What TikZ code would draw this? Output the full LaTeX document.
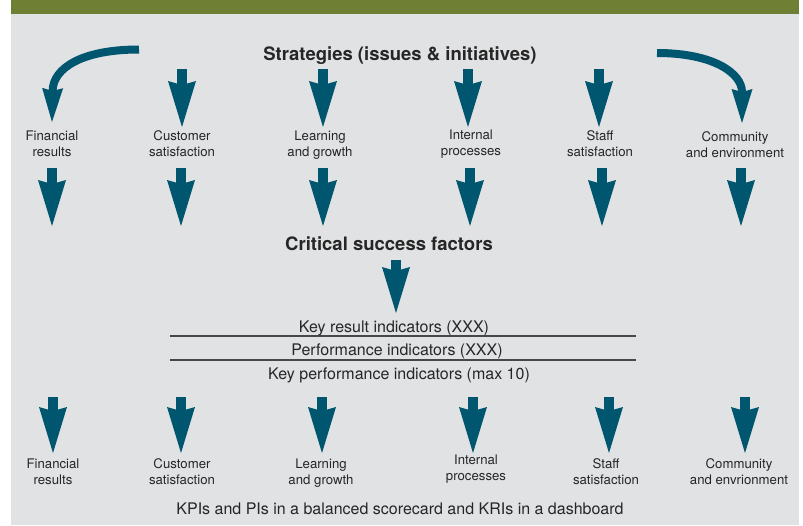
\documentclass[tikz,border=0pt]{standalone}
\usepackage{fontspec}
\setmainfont{TeX Gyre Heros}
\definecolor{band}{HTML}{6F7F33}
\definecolor{panel}{HTML}{E1E2E4}
\definecolor{arr}{HTML}{00566F}
\definecolor{ink}{HTML}{262626}
\usetikzlibrary{arrows.meta,positioning}

\begin{document}
\begin{tikzpicture}
    [x=1pt,y=-1pt,
      fatarrow/.style={arr,line width=10pt,-{Stealth[width=28pt,length=46pt,inset=4pt,line width=0pt]}},
      curlarrow/.style={arr,line width=8pt,-{Stealth[width=21pt,length=34pt,inset=3pt,line width=0pt]}},
      lbl/.style={align=center,text=ink,inner sep=0pt,font=\fontsize{13.2}{16}\selectfont},
      head/.style={text=ink,anchor=base,inner sep=0pt,font=\fontsize{18.5}{22}\selectfont\bfseries},
      ind/.style={text=ink,anchor=base,inner sep=0pt,font=\fontsize{16}{19}\selectfont},
      sep/.style={draw=ink!85,line width=1.5pt}]

  \useasboundingbox (0,0) rectangle (803,525);
  \fill[panel] (11,14) rectangle (799,525);
  \fill[band] (11,0) rectangle (799,14);

  \node [head] (strat) at (400,60) {Strategies (issues \& initiatives)};

  \node [lbl] (fin1) at (52,144) {Financial\\results};
  \node [lbl] (cus1) at (182,144) {Customer\\satisfaction};
  \node [lbl] (lrn1) at (320,145) {Learning\\and growth};
  \node [lbl] (int1) at (471,144) {Internal\\processes};
  \node [lbl] (stf1) at (600,144) {Staff\\satisfaction};
  \node [lbl] (com1) at (735,145) {Community\\and environment};

  \coordinate (lcurl) at (139,49.5);
  \coordinate (rcurl) at (657,53);
  \draw [curlarrow] (lcurl) .. controls (82,49.5) and (53,68) .. ([yshift=22pt]fin1.center);
  \draw [curlarrow] (rcurl) .. controls (713,53) and (742,73) .. ([xshift=7pt,yshift=22pt]com1.center);

  \draw [fatarrow] ([yshift=75pt]cus1.center) -- ([yshift=17pt]cus1.center);
  \draw [fatarrow] ([xshift=3pt,yshift=76pt]lrn1.center) -- ([xshift=3pt,yshift=18pt]lrn1.center);
  \draw [fatarrow] ([xshift=-3pt,yshift=75pt]int1.center) -- ([xshift=-3pt,yshift=17pt]int1.center);
  \draw [fatarrow] ([xshift=-1pt,yshift=75pt]stf1.center) -- ([xshift=-1pt,yshift=17pt]stf1.center);

  \draw [fatarrow] ([yshift=-24pt]fin1.center) -- ([yshift=-82pt]fin1.center);
  \draw [fatarrow] ([xshift=-1pt,yshift=-24pt]cus1.center) -- ([xshift=-1pt,yshift=-82pt]cus1.center);
  \draw [fatarrow] ([xshift=3pt,yshift=-23pt]lrn1.center) -- ([xshift=3pt,yshift=-81pt]lrn1.center);
  \draw [fatarrow] ([xshift=-1pt,yshift=-24pt]int1.center) -- ([xshift=-1pt,yshift=-82pt]int1.center);
  \draw [fatarrow] ([xshift=2pt,yshift=-24pt]stf1.center) -- ([xshift=2pt,yshift=-82pt]stf1.center);
  \draw [fatarrow] ([xshift=6pt,yshift=-23pt]com1.center) -- ([xshift=6pt,yshift=-81pt]com1.center);

  \node [head] (csf) at (389,250) {Critical success factors};

  \node [ind] (kri) at (394,332) {Key result indicators (XXX)};
  \node [ind] (pi) at (397,355) {Performance indicators (XXX)};
  \node [ind] (kpi) at (399,379) {Key performance indicators (max 10)};
  \draw [sep] (170,336) -- (636,336);
  \draw [sep] (170,360) -- (636,360);

  \draw [fatarrow] ([xshift=7pt,yshift=-10pt]csf.base) -- ([xshift=2pt,yshift=19pt]kri.base);

  \node [lbl] (fin3) at (53,472) {Financial\\results};
  \node [lbl] (cus3) at (182,472) {Customer\\satisfaction};
  \node [lbl] (lrn3) at (321,473) {Learning\\and growth};
  \node [lbl] (int3) at (476,469) {Internal\\processes};
  \node [lbl] (stf3) at (606,472) {Staff\\satisfaction};
  \node [lbl] (com3) at (739,472) {Community\\and envrionment};

  \draw [fatarrow] ([yshift=75pt]fin3.center) -- ([yshift=19pt]fin3.center);
  \draw [fatarrow] ([xshift=-1pt,yshift=75pt]cus3.center) -- ([xshift=-1pt,yshift=19pt]cus3.center);
  \draw [fatarrow] ([xshift=1pt,yshift=76pt]lrn3.center) -- ([xshift=1pt,yshift=20pt]lrn3.center);
  \draw [fatarrow] ([xshift=-3pt,yshift=72pt]int3.center) -- ([xshift=-3pt,yshift=16pt]int3.center);
  \draw [fatarrow] ([xshift=3pt,yshift=75pt]stf3.center) -- ([xshift=3pt,yshift=19pt]stf3.center);
  \draw [fatarrow] ([xshift=6pt,yshift=75pt]com3.center) -- ([xshift=6pt,yshift=19pt]com3.center);

  \node [ind] (cap) at (400,514) {KPIs and PIs in a balanced scorecard and KRIs in a dashboard};
\end{tikzpicture}
\end{document}
